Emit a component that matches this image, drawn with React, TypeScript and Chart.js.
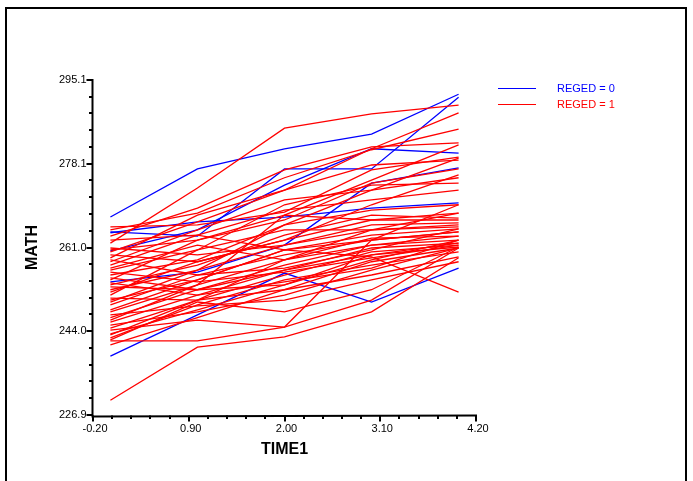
import React, { useEffect, useRef } from "react";
import { Chart, registerables } from "chart.js";

Chart.register(...registerables);

const TIMES = [0, 1, 2, 3, 4];

// REGED = 0 (blue) trajectories, MATH at TIME1 = 0..4
const REGED0: number[][] = [
  [267.2, 277.0, 281.1, 284.1, 292.2],
  [264.2, 263.3, 277.0, 277.0, 291.6],
  [264.0, 266.2, 267.2, 269.0, 270.1],
  [260.3, 264.6, 273.7, 281.1, 280.2],
  [254.0, 256.0, 261.5, 274.1, 277.2],
  [238.9, 247.3, 255.8, 249.9, 256.8],
];

// REGED = 1 (red) trajectories
const REGED1: number[][] = [
  [261.9, 273.1, 285.3, 288.2, 290.0],
  [229.9, 240.7, 242.8, 247.9, 258.9],
  [248.3, 254.4, 260.5, 259.1, 251.9],
  [242.2, 249.9, 247.9, 252.4, 261.1],
  [244.2, 246.2, 244.8, 250.3, 260.9],
  [242.0, 242.0, 244.8, 262.5, 269.7],
  [264.6, 268.0, 275.2, 280.9, 285.1],
  [263.3, 269.0, 276.8, 281.5, 282.3],
  [265.2, 265.6, 268.2, 276.8, 279.4],
  [258.9, 267.6, 272.7, 277.8, 278.8],
  [260.5, 262.5, 266.6, 274.1, 277.0],
  [258.1, 264.6, 270.7, 272.7, 275.2],
  [256.4, 260.5, 269.7, 273.7, 274.1],
  [257.4, 263.5, 268.6, 270.7, 272.7],
  [255.4, 258.5, 265.6, 268.6, 269.7],
  [254.4, 262.5, 267.6, 266.6, 268.0],
  [253.4, 257.4, 263.5, 267.6, 267.0],
  [252.4, 256.4, 261.5, 265.6, 266.0],
  [251.3, 260.5, 264.6, 264.6, 265.2],
  [250.3, 254.4, 260.5, 263.5, 264.8],
  [249.3, 255.4, 259.5, 262.5, 264.2],
  [247.9, 253.4, 258.5, 262.9, 263.3],
  [246.7, 252.4, 257.4, 261.5, 262.5],
  [245.8, 251.3, 256.4, 260.9, 261.9],
  [244.6, 250.3, 255.4, 260.1, 261.5],
  [243.4, 248.3, 253.4, 259.5, 261.1],
  [241.2, 246.7, 252.4, 258.1, 260.9],
  [242.6, 249.3, 254.4, 257.4, 260.1],
  [260.9, 259.5, 261.5, 264.6, 265.6],
  [259.5, 258.1, 262.5, 266.6, 266.6],
  [256.8, 261.5, 258.5, 261.5, 263.3],
  [262.5, 263.5, 260.5, 262.5, 264.2],
  [253.0, 252.4, 256.4, 259.5, 261.9],
  [250.7, 250.3, 252.4, 255.4, 259.1],
  [247.3, 249.1, 250.3, 254.4, 258.1],
  [245.2, 247.9, 251.3, 256.4, 260.9],
  [254.8, 252.4, 253.4, 258.5, 262.5],
  [251.9, 258.1, 262.5, 269.7, 275.8],
  [249.9, 256.4, 265.6, 272.7, 279.2],
  [246.2, 253.4, 267.6, 274.7, 281.9],
  [243.2, 250.3, 258.5, 264.6, 268.0],
  [256.0, 254.0, 256.0, 258.9, 261.5],
  [258.5, 255.4, 256.8, 260.5, 264.8],
  [253.8, 251.3, 254.0, 256.8, 262.5],
  [260.1, 266.2, 272.7, 281.1, 288.4],
];

const X_TICKS = [-0.2, 0.9, 2.0, 3.1, 4.2];
const X_TICK_LABELS = ["-0.20", "0.90", "2.00", "3.10", "4.20"];
const Y_TICKS = [226.9, 244.0, 261.0, 278.1, 295.1];
const Y_TICK_LABELS = ["226.9", "244.0", "261.0", "278.1", "295.1"];
const LEGEND_LABELS = ["REGED = 0", "REGED = 1"];
const SERIES_COLORS = ["#0000ff", "#ff0000"];
const X_TITLE = "TIME1";
const Y_TITLE = "MATH";
const MINOR_PER_MAJOR = 4;

const FONT = "'Liberation Sans', Arial, sans-serif";

const decorPlugin = {
  id: "decor",
  afterDraw(chart: any) {
    const ctx = chart.ctx as CanvasRenderingContext2D;
    const xs = chart.scales.x;
    const ys = chart.scales.y;
    const area = chart.chartArea;
    const W = chart.width;
    const H = chart.height;
    ctx.save();

    // outer frame (top, left, right)
    ctx.strokeStyle = "#000";
    ctx.lineWidth = 2;
    ctx.beginPath();
    ctx.moveTo(6, H + 2);
    ctx.lineTo(6, 8);
    ctx.lineTo(W - 7, 8);
    ctx.lineTo(W - 7, H + 2);
    ctx.stroke();

    const left = Math.round(area.left) - 0.5;
    const bottom = Math.round(area.bottom) + 0.5;

    // axes lines
    ctx.lineWidth = 2;
    ctx.beginPath();
    ctx.moveTo(left, Math.round(area.top) - 1);
    ctx.lineTo(left, bottom + 1);
    ctx.lineTo(Math.round(area.right) + 1, bottom);
    ctx.stroke();

    // y ticks
    ctx.beginPath();
    for (let i = 0; i < Y_TICKS.length; i++) {
      const y = Math.round(ys.getPixelForValue(Y_TICKS[i]));
      ctx.moveTo(left - 6, y);
      ctx.lineTo(left, y);
      if (i < Y_TICKS.length - 1) {
        const step = (Y_TICKS[i + 1] - Y_TICKS[i]) / (MINOR_PER_MAJOR + 1);
        for (let k = 1; k <= MINOR_PER_MAJOR; k++) {
          const ym = Math.round(ys.getPixelForValue(Y_TICKS[i] + k * step));
          ctx.moveTo(left - 3.5, ym);
          ctx.lineTo(left, ym);
        }
      }
    }
    // x ticks
    for (let i = 0; i < X_TICKS.length; i++) {
      const x = Math.round(xs.getPixelForValue(X_TICKS[i]));
      ctx.moveTo(x, bottom);
      ctx.lineTo(x, bottom + 6);
      if (i < X_TICKS.length - 1) {
        const step = (X_TICKS[i + 1] - X_TICKS[i]) / (MINOR_PER_MAJOR + 1);
        for (let k = 1; k <= MINOR_PER_MAJOR; k++) {
          const xm = Math.round(xs.getPixelForValue(X_TICKS[i] + k * step));
          ctx.moveTo(xm, bottom);
          ctx.lineTo(xm, bottom + 3.5);
        }
      }
    }
    ctx.stroke();

    // tick labels
    ctx.fillStyle = "#000";
    ctx.font = `11px ${FONT}`;
    ctx.textAlign = "right";
    ctx.textBaseline = "middle";
    for (let i = 0; i < Y_TICKS.length; i++) {
      const y = ys.getPixelForValue(Y_TICKS[i]);
      ctx.fillText(Y_TICK_LABELS[i], left - 6, y);
    }
    ctx.textAlign = "center";
    ctx.textBaseline = "top";
    for (let i = 0; i < X_TICKS.length; i++) {
      const x = xs.getPixelForValue(X_TICKS[i]);
      ctx.fillText(X_TICK_LABELS[i], x + 2, bottom + 8);
    }

    // axis titles
    ctx.font = `bold 16px ${FONT}`;
    ctx.textAlign = "center";
    ctx.textBaseline = "middle";
    ctx.fillText(X_TITLE, (area.left + area.right) / 2, bottom + 34);
    ctx.save();
    ctx.translate(33, (area.top + area.bottom) / 2);
    ctx.rotate(-Math.PI / 2);
    ctx.fillText(Y_TITLE, 0, 0);
    ctx.restore();

    // legend
    ctx.font = `11px ${FONT}`;
    ctx.textAlign = "left";
    ctx.textBaseline = "middle";
    ctx.lineWidth = 1.2;
    for (let i = 0; i < LEGEND_LABELS.length; i++) {
      const y = 88.5 + i * 16;
      ctx.strokeStyle = SERIES_COLORS[i];
      ctx.beginPath();
      ctx.moveTo(498, y);
      ctx.lineTo(536, y);
      ctx.stroke();
      ctx.fillStyle = SERIES_COLORS[i];
      ctx.fillText(LEGEND_LABELS[i], 557, y);
    }
    ctx.restore();
  },
};

export default function App() {
  const ref = useRef<HTMLCanvasElement | null>(null);

  useEffect(() => {
    if (!ref.current) return;
    const toPoints = (row: number[]) => row.map((v, i) => ({ x: TIMES[i], y: v }));
    const datasets: any[] = [];
    REGED1.forEach((row, i) =>
      datasets.push({
        label: `${LEGEND_LABELS[1]} #${i + 1}`,
        data: toPoints(row),
        borderColor: SERIES_COLORS[1],
        borderWidth: 1.3,
        pointRadius: 0,
        fill: false,
        tension: 0,
      })
    );
    REGED0.forEach((row, i) =>
      datasets.push({
        label: `${LEGEND_LABELS[0]} #${i + 1}`,
        data: toPoints(row),
        borderColor: SERIES_COLORS[0],
        borderWidth: 1.3,
        pointRadius: 0,
        fill: false,
        tension: 0,
      })
    );

    const chart = new Chart(ref.current, {
      type: "line",
      data: { datasets },
      options: {
        animation: false,
        responsive: false,
        maintainAspectRatio: false,
        layout: { padding: { left: 93, top: 80, right: 217, bottom: 66 } },
        plugins: {
          legend: { display: false },
          tooltip: { enabled: false },
          title: { display: false },
        },
        scales: {
          x: { type: "linear", min: -0.2, max: 4.2, display: false },
          y: { type: "linear", min: 226.9, max: 295.1, display: false },
        },
      },
      plugins: [decorPlugin],
    });
    return () => chart.destroy();
  }, []);

  return (
    <div style={{ position: "absolute", left: 0, top: 0, width: 693, height: 481, background: "#fff" }}>
      <canvas ref={ref} width={693} height={481} style={{ display: "block" }} />
    </div>
  );
}
